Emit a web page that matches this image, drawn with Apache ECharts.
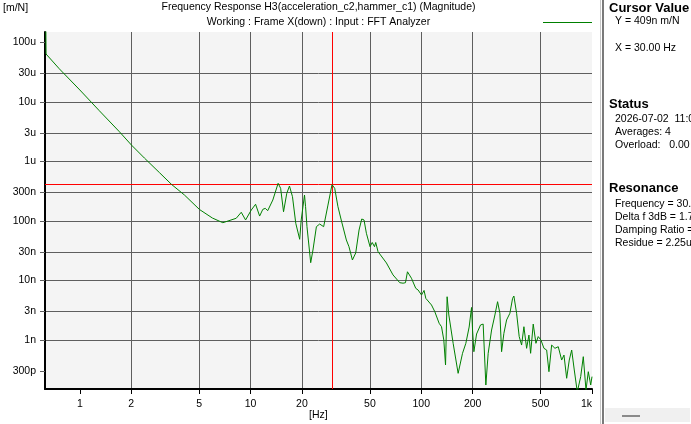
<!DOCTYPE html>
<html>
<head>
<meta charset="utf-8">
<script src="https://cdn.jsdelivr.net/npm/echarts@6/dist/echarts.min.js"></script>
<style>
html,body{margin:0;padding:0;background:#fff;}
#c{width:691px;height:424px;}
</style>
</head>
<body>
<div id="c"></div>
<script>
// ---- data ----
const freqHz = [0.632, 0.634, 0.758, 1.0, 1.30, 1.705, 2.005, 2.39, 2.93, 3.44, 4.10, 5.02, 5.98, 6.88, 8.24, 8.82, 9.35, 10.1, 10.7, 11.3, 11.8, 12.2, 12.6, 13.5, 14.5, 15.0, 15.6, 16.3, 16.9, 17.6, 18.4, 19.4, 19.8, 20.7, 21.0, 21.4, 22.5, 23.2, 24.3, 25.4, 26.8, 28.4, 30.0, 31.1, 32.5, 34.2, 36.4, 37.7, 39.5, 41.3, 43.2, 44.8, 46.2, 47.7, 50.1, 51.6, 53.2, 54.1, 55.8, 62.5, 68.3, 74.8, 78.2, 80.8, 83.0, 87.6, 92.8, 95.8, 100.3, 103.8, 106.3, 114.8, 120.0, 127.2, 131.4, 135.5, 138.7, 141.7, 145.0, 153.7, 164.4, 174.4, 182.4, 190.7, 197.0, 199.7, 203.3, 210.8, 222.4, 230.4, 238.9, 246.5, 258.1, 269.9, 279.9, 288.7, 295.4, 304.7, 316.0, 330.4, 342.6, 348.7, 361.7, 374.6, 387.0, 399.2, 414.0, 427.1, 437.0, 452.6, 469.4, 484.2, 502.2, 523.0, 542.4, 559.5, 580.3, 606.7, 634.4, 664.2, 685.2, 710.6, 736.0, 760.3, 787.4, 820.0, 858.5, 889.2, 922.1, 951.3, 982.6, 1000];
const magMN = [2.0e-4, 6.40e-5, 3.61e-5, 1.59e-5, 7.13e-6, 3.16e-6, 1.89e-6, 1.14e-6, 6.47e-7, 4.13e-7, 2.73e-7, 1.56e-7, 1.12e-7, 9.35e-8, 1.11e-7, 1.40e-7, 1.04e-7, 1.53e-7, 1.91e-7, 1.21e-7, 1.57e-7, 1.63e-7, 1.49e-7, 2.25e-7, 4.30e-7, 3.54e-7, 1.43e-7, 2.92e-7, 3.87e-7, 2.56e-7, 9.14e-8, 4.92e-8, 1.04e-7, 2.73e-7, 1.74e-7, 8.02e-8, 1.99e-8, 3.25e-8, 8.02e-8, 8.89e-8, 8.02e-8, 1.85e-7, 4.09e-7, 3.54e-7, 1.74e-7, 9.61e-8, 4.79e-8, 3.70e-8, 2.21e-8, 2.90e-8, 7.05e-8, 1.08e-7, 1.04e-7, 6.21e-8, 3.70e-8, 4.35e-8, 3.70e-8, 4.35e-8, 3.05e-8, 1.97e-8, 1.24e-8, 9.18e-9, 9.0e-9, 9.18e-9, 1.40e-8, 1.09e-8, 7.38e-9, 6.92e-9, 5.70e-9, 6.8e-9, 5.01e-9, 3.87e-9, 2.99e-9, 1.91e-9, 1.67e-9, 1.00e-9, 3.80e-10, 5.33e-9, 2.63e-9, 8.79e-10, 2.75e-10, 5.97e-10, 8.79e-10, 1.65e-9, 3.52e-9, 1.47e-9, 6.35e-10, 1.26e-9, 1.79e-9, 1.85e-9, 1.75e-10, 5.97e-10, 1.47e-9, 2.63e-9, 4.40e-9, 2.81e-9, 6.35e-10, 1.29e-9, 2.17e-9, 2.81e-9, 5.01e-9, 5.48e-9, 2.81e-9, 1.14e-9, 8.22e-10, 1.67e-9, 7.24e-10, 1.21e-9, 5.97e-10, 1.85e-9, 8.79e-10, 1.14e-9, 1.00e-9, 7.24e-10, 6.78e-10, 2.93e-10, 8.22e-10, 7.24e-10, 7.71e-10, 4.60e-10, 5.58e-10, 2.27e-10, 4.60e-10, 6.78e-10, 3.13e-10, 1.34e-10, 2.42e-10, 5.24e-10, 1.44e-10, 2.93e-10, 1.75e-10, 2.42e-10];

const xTickValues = [1, 2, 5, 10, 20, 50, 100, 200, 500, 1000];
const xTickLabels = ['1', '2', '5', '10', '20', '50', '100', '200', '500', '1k'];
const yTickValues = [3e-10, 1e-9, 3e-9, 1e-8, 3e-8, 1e-7, 3e-7, 1e-6, 3e-6, 1e-5, 3e-5, 1e-4];
const yTickLabels = ['300p', '1n', '3n', '10n', '30n', '100n', '300n', '1u', '3u', '10u', '30u', '100u'];
const xRange = [0.625, 1000];
const yRange = [1.5e-10, 1.5e-4];
const cursorX = 30;      // Hz
const cursorY = 409e-9;  // m/N

const titleText = 'Frequency Response H3(acceleration_c2,hammer_c1) (Magnitude)';
const subText = 'Working : Frame X(down) : Input : FFT Analyzer';
const panelCursor = ['Y = 409n m/N', 'X = 30.00 Hz'];
const panelStatus = ['2026-07-02  11:05:31', 'Averages: 4', 'Overload:   0.00 %'];
const panelRes = ['Frequency = 30.00 Hz', 'Delta f 3dB = 1.75 Hz', 'Damping Ratio = 2.92 %', 'Residue = 2.25u m/N'];

// ---- build ----
const lg = Math.log10;
const n = Math.min(freqHz.length, magMN.length);
const seriesData = [];
for (let i = 0; i < n; i++) seriesData.push([lg(freqHz[i]), lg(magMN[i])]);

function lookup(vals, labels) {
  return function (v) {
    for (let i = 0; i < vals.length; i++) if (Math.abs(lg(vals[i]) - v) < 1e-3) return labels[i];
    return '';
  };
}

const FONT = '"Liberation Sans", Arial, sans-serif';
const FS = 10.5;
const chart = echarts.init(document.getElementById('c'), null, {renderer: 'canvas'});

function txt(x, y, t, bold, size) {
  return {
    type: 'text', x: x, y: y, silent: true, z: 10,
    style: {
      text: t, fill: '#000',
      font: (bold ? 'bold ' : '') + (size || FS) + 'px ' + FONT,
      textAlign: 'left', textVerticalAlign: 'middle', align: 'left', verticalAlign: 'middle'
    }
  };
}

const graphics = [
  // right info panel
  {type: 'rect', shape: {x: 594, y: 0, width: 97, height: 424}, style: {fill: '#ffffff'}, silent: true},
  {type: 'rect', shape: {x: 600, y: 0, width: 1, height: 424}, style: {fill: '#c8c8c8'}, silent: true},
  {type: 'rect', shape: {x: 602, y: 0, width: 2, height: 424}, style: {fill: '#7a7a7a'}, silent: true},
  {type: 'rect', shape: {x: 605, y: 408, width: 85, height: 14}, style: {fill: '#f0f0f0'}, silent: true},
  {type: 'rect', shape: {x: 622, y: 415, width: 18, height: 2}, style: {fill: '#8a8a8a'}, silent: true},
  txt(609, 8, 'Cursor Value', true, 13),
  txt(615, 21, panelCursor[0]),
  txt(615, 48, panelCursor[1]),
  txt(609, 104, 'Status', true, 13),
  txt(615, 119, panelStatus[0]),
  txt(615, 132, panelStatus[1]),
  txt(615, 145, panelStatus[2]),
  txt(609, 188, 'Resonance', true, 13),
  txt(615, 204, panelRes[0]),
  txt(615, 217, panelRes[1]),
  txt(615, 230, panelRes[2]),
  txt(615, 243, panelRes[3]),
  // unit labels
  txt(3, 8, '[m/N]'),
  txt(309, 415, '[Hz]')
];

chart.setOption({
  animation: false,
  backgroundColor: '#ffffff',
  title: [
    {text: titleText, left: 318.5, top: 2, textAlign: 'center', padding: 0,
     textStyle: {fontFamily: FONT, fontSize: FS, fontWeight: 'normal', color: '#000'}},
    {text: subText, left: 318.5, top: 17, textAlign: 'center', padding: 0,
     textStyle: {fontFamily: FONT, fontSize: FS, fontWeight: 'normal', color: '#000'}}
  ],
  legend: {
    right: 99, top: 22, padding: 0, itemGap: 0,
    itemWidth: 49, itemHeight: 1,
    data: [{name: 'H3', icon: 'rect'}],
    itemStyle: {color: '#008000', borderWidth: 0},
    formatter: function () { return ''; },
    textStyle: {fontSize: 1},
    selectedMode: false
  },
  grid: {
    left: 45, right: 99, top: 32, bottom: 35,
    show: true, backgroundColor: '#f4f4f4', borderWidth: 0,
    containLabel: false
  },
  xAxis: {
    type: 'value',
    min: lg(xRange[0]), max: lg(xRange[1]),
    axisLine: {show: true, onZero: false, lineStyle: {color: '#000', width: 2}},
    axisTick: {show: true, inside: false, length: 5, customValues: xTickValues.map(lg),
               lineStyle: {color: '#000', width: 1}},
    axisLabel: {show: true, customValues: xTickValues.map(lg), margin: 10,
                formatter: lookup(xTickValues, xTickLabels),
                fontFamily: FONT, fontSize: FS, color: '#000',
                alignMaxLabel: 'right',
                showMinLabel: true, showMaxLabel: true, hideOverlap: false},
    splitLine: {show: true, showMinLine: false, showMaxLine: false,
                lineStyle: {color: '#5e5e5e', width: 1}}
  },
  yAxis: {
    type: 'value',
    min: lg(yRange[0]), max: lg(yRange[1]),
    axisLine: {show: true, onZero: false, lineStyle: {color: '#000', width: 2}},
    axisTick: {show: true, inside: false, length: 5, customValues: yTickValues.map(lg),
               lineStyle: {color: '#5e5e5e', width: 1}},
    axisLabel: {show: true, customValues: yTickValues.map(lg), margin: 9,
                formatter: lookup(yTickValues, yTickLabels),
                fontFamily: FONT, fontSize: FS, color: '#000', hideOverlap: false},
    splitLine: {show: true, showMinLine: false, showMaxLine: false,
                lineStyle: {color: '#5e5e5e', width: 1}}
  },
  series: [{
    name: 'H3',
    type: 'line',
    data: seriesData,
    showSymbol: false,
    symbol: 'none',
    clip: true,
    z: 5,
    color: '#008000',
    lineStyle: {color: '#008000', width: 1},
    markLine: {
      silent: true,
      symbol: ['none', 'none'],
      label: {show: false},
      lineStyle: {color: '#ff0000', type: 'solid', width: 1},
      emphasis: {disabled: true},
      data: [{xAxis: lg(cursorX)}, {yAxis: lg(cursorY)}]
    }
  }],
  graphic: graphics
});
</script>
</body>
</html>
